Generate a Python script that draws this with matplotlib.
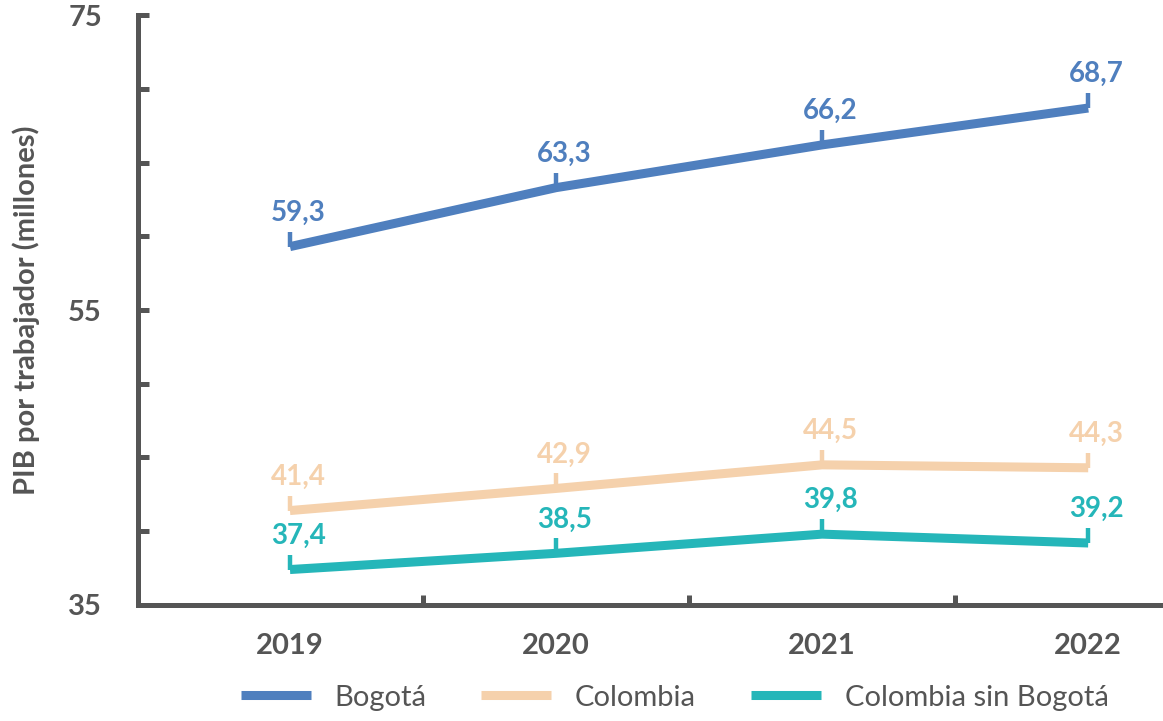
import matplotlib.pyplot as plt
import numpy as np
from matplotlib.ticker import FixedLocator

years = ["2019", "2020", "2021", "2022"]
bogota = [59.3, 63.3, 66.2, 68.7]
colombia = [41.4, 42.9, 44.5, 44.3]
col_sin_bogota = [37.4, 38.5, 39.8, 39.2]
y_major = [35, 55, 75]
y_minor = [40, 45, 50, 60, 65, 70]

series = [
    ("Bogotá", bogota, "#4f7fbe"),
    ("Colombia", colombia, "#f5d1ac"),
    ("Colombia sin Bogotá", col_sin_bogota, "#25b6b9"),
]

GRAY = "#555555"
BOLD_FONT = ["Lato", "DejaVu Sans"]


def fmt(v):
    return f"{v:.1f}".replace(".", ",")


def main() -> None:
    fig = plt.figure(figsize=(11.63, 7.21), dpi=100)
    ax = fig.add_axes([0.1187, 0.161, 0.879, 0.818])

    x = np.arange(len(years))
    for name, vals, color in series:
        ax.plot(x, vals, color=color, lw=6.5, solid_capstyle="butt", label=name,
                marker=2, markersize=11, markeredgewidth=3.2)
        for xi, v in zip(x, vals):
            ax.annotate(fmt(v), (xi, v), xytext=(6, 15), textcoords="offset points",
                        ha="center", va="bottom", color=color, fontsize=20,
                        fontweight="bold", family=BOLD_FONT)

    ax.set_ylim(35, 75)
    ax.set_xlim(-0.571, 3.271)
    ax.yaxis.set_major_locator(FixedLocator(y_major))
    ax.yaxis.set_minor_locator(FixedLocator(y_minor))
    ax.set_xticks(x, years)
    ax.xaxis.set_minor_locator(FixedLocator([0.5, 1.5, 2.5]))

    for side in ("top", "right"):
        ax.spines[side].set_visible(False)
    for side in ("left", "bottom"):
        ax.spines[side].set_color(GRAY)
        ax.spines[side].set_linewidth(3.6)

    ax.tick_params(axis="y", which="both", direction="in", length=8, width=3.6,
                   color=GRAY, labelcolor=GRAY, labelsize=21, pad=26)
    ax.tick_params(axis="x", which="major", length=0, labelcolor=GRAY,
                   labelsize=21, pad=20)
    ax.tick_params(axis="x", which="minor", direction="in", length=7, width=3.6,
                   color=GRAY)
    for lab in ax.get_xticklabels() + ax.get_yticklabels():
        lab.set_fontweight("bold")
        lab.set_family(BOLD_FONT)

    ax.set_ylabel("PIB por trabajador (millones)", color=GRAY, fontsize=21,
                  fontweight="bold", family=BOLD_FONT, labelpad=20)

    fig.legend(loc="lower center", bbox_to_anchor=(0.58, -0.022), ncol=3,
               frameon=False, handlelength=2.4, handletextpad=0.8, columnspacing=1.9,
               prop={"family": ["Lato", "DejaVu Sans"], "size": 21},
               labelcolor=GRAY)
    for h in fig.legends[0].legend_handles:
        h.set_marker("")
        h.set_linewidth(6.5)

    fig.savefig("out.png", dpi=100)
    plt.close(fig)


if __name__ == "__main__":
    main()
